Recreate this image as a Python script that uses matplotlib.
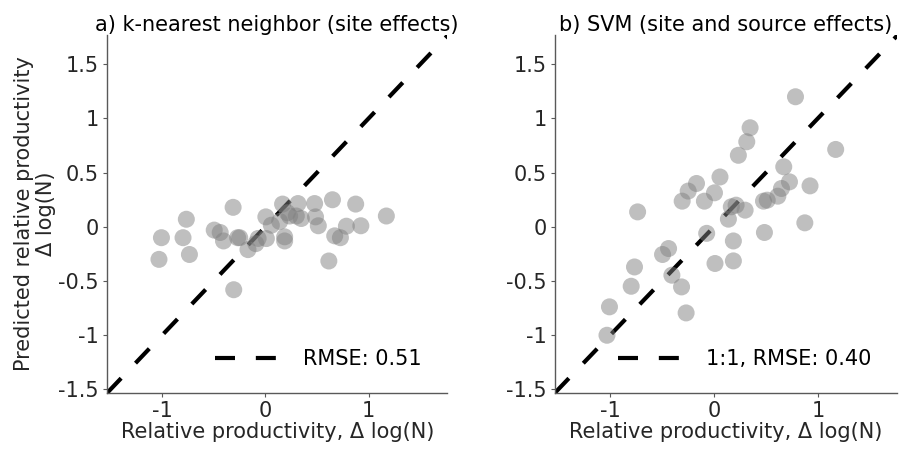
import matplotlib
matplotlib.use("Agg")
import matplotlib.pyplot as plt
import numpy as np

plt.rcParams['font.family'] = ['DejaVu Sans']

# Observed relative productivity, Δ log(N)
observed = [-1.03, -1.006, -0.797, -0.765, -0.735, -0.495, -0.437, -0.405,
            -0.312, -0.306, -0.268, -0.248, -0.168, -0.092, -0.07, 0.005,
            0.01, 0.058, 0.139, 0.167, 0.187, 0.187, 0.213, 0.235, 0.30,
            0.316, 0.348, 0.477, 0.486, 0.513, 0.615, 0.65, 0.672, 0.727,
            0.785, 0.875, 0.925, 1.172]

# k-nearest neighbour predictions (site effects)
pred_knn = [-0.30, -0.10, -0.10, 0.07, -0.255, -0.03, -0.052, -0.13,
            0.18, -0.58, -0.10, -0.10, -0.21, -0.155, -0.107, 0.092,
            -0.108, 0.015, 0.05, 0.21, -0.092, -0.13, 0.13, 0.10, 0.10,
            0.215, 0.077, 0.215, 0.092, 0.01, -0.315, 0.25, -0.083, -0.10,
            0.006, 0.21, 0.01, 0.10]

# SVM predictions (site and source effects)
pred_svm = [-1.00, -0.738, -0.548, -0.37, 0.138, -0.255, -0.20, -0.446,
            -0.554, 0.237, -0.794, 0.33, 0.40, 0.237, -0.06, 0.314,
            -0.338, 0.46, 0.071, 0.185, -0.13, -0.314, 0.2, 0.66, 0.154,
            0.785, 0.914, 0.237, -0.052, 0.246, 0.283, 0.354, 0.554, 0.415,
            1.20, 0.037, 0.378, 0.714]

titles = ["a) k-nearest neighbor (site effects)",
          "b) SVM (site and source effects)"]
legend_labels = ["RMSE: 0.51", "1:1, RMSE: 0.40"]
ticks = [-1.5, -1, -0.5, 0, 0.5, 1, 1.5]
tick_labels = ["-1.5", "-1", "-0.5", "0", "0.5", "1", "1.5"]
xticks = [-1, 0, 1]
xtick_labels = ["-1", "0", "1"]

text_color = "#262626"
axis_color = "#595959"
fs = 15

fig = plt.figure(figsize=(8.99, 4.5), dpi=100)
positions = [[0.1194, 0.1273, 0.3779, 0.795],
             [0.6174, 0.1273, 0.3801, 0.795]]

for i, (pos, preds, title, lab) in enumerate(zip(positions, [pred_knn, pred_svm],
                                                  titles, legend_labels)):
    ax = fig.add_axes(pos)
    lims = (-1.53, 1.77)
    ax.set_xlim(-1.53, 1.76)
    ax.set_ylim(lims)
    line_x = np.array(lims)
    ax.plot(line_x, line_x, color="black", lw=3.0, dashes=(4.8, 5.0),
            solid_capstyle="butt", dash_capstyle="butt", zorder=2, label=lab)
    ax.scatter(observed, preds, s=150, color="0.5", alpha=0.5,
               edgecolors="none", zorder=3)

    ax.set_xticks(xticks)
    ax.set_xticklabels(xtick_labels)
    ax.set_yticks(ticks)
    ax.set_yticklabels(tick_labels)
    for side in ["top", "right"]:
        ax.spines[side].set_visible(False)
    for side in ["left", "bottom"]:
        ax.spines[side].set_color(axis_color)
        ax.spines[side].set_linewidth(1.0)
    ax.tick_params(direction="out", length=3, width=0.8, color=axis_color,
                   labelcolor=text_color, labelsize=fs, pad=3)
    ax.set_xlabel("Relative productivity, Δ log(N)", fontsize=fs,
                  color=text_color, labelpad=1)
    ax.set_title(title, fontsize=fs, color="black", pad=3)

    leg = ax.legend(loc="center right", bbox_to_anchor=(0.968, 0.094),
                    frameon=False, fontsize=fs, handlelength=3.0,
                    handletextpad=1.2, borderpad=0.2)
    for t in leg.get_texts():
        t.set_color("black")

    if i == 0:
        ax.set_ylabel("Predicted relative productivity\nΔ log(N)",
                      fontsize=fs, color=text_color, labelpad=2,
                      linespacing=1.1)

fig.savefig("out.png", dpi=100)
